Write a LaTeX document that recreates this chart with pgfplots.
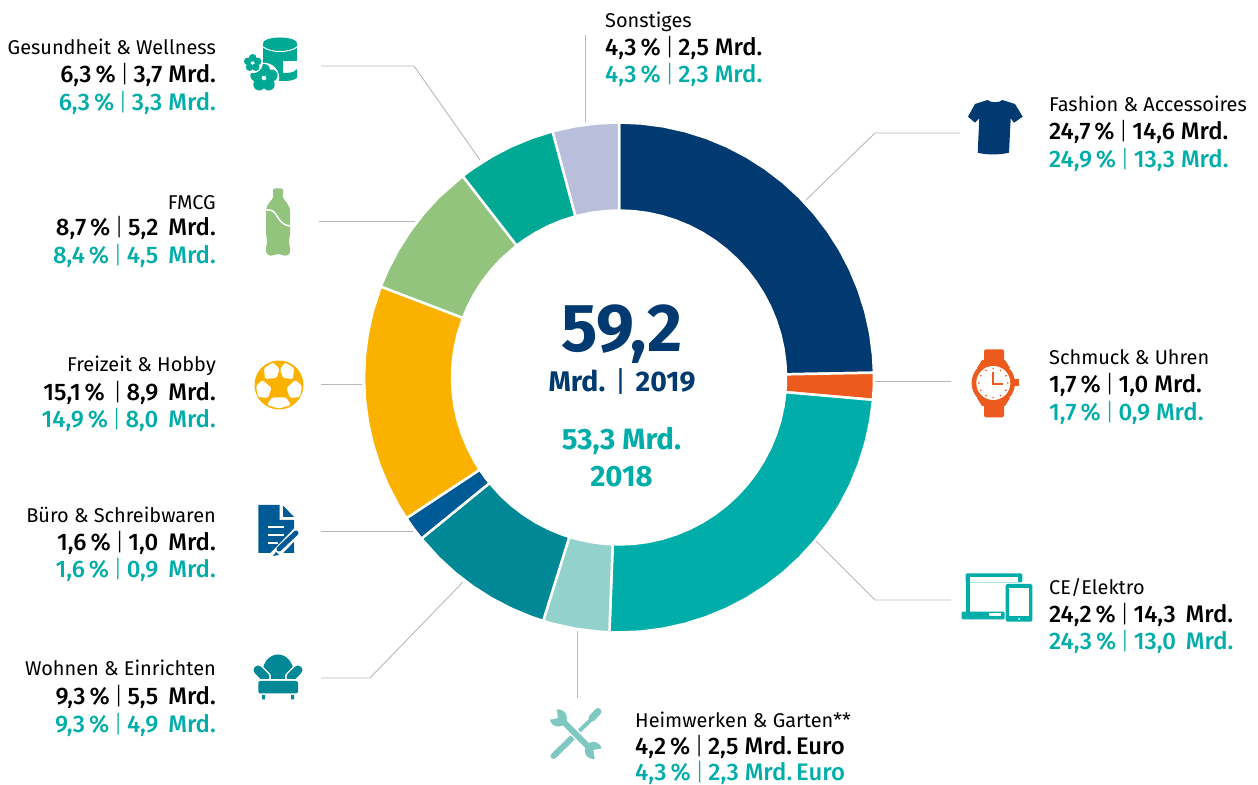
\documentclass[border=0pt]{standalone}
\usepackage{fontspec}
\usepackage{pgfplots}
\usepgfplotslibrary{polar}
\pgfplotsset{compat=1.18}
\setmainfont{Fira Sans}
\newfontfamily\med{Fira Sans Medium}
\definecolor{cNavy}{HTML}{003A70}
\definecolor{cOrange}{HTML}{EC5A1E}
\definecolor{cTeal}{HTML}{00ADA9}
\definecolor{cLight}{HTML}{93D2CC}
\definecolor{cDark}{HTML}{008896}
\definecolor{cBlue}{HTML}{005A96}
\definecolor{cYellow}{HTML}{FBB100}
\definecolor{cGreen}{HTML}{92C47D}
\definecolor{cSea}{HTML}{00A994}
\definecolor{cLav}{HTML}{B9BFDA}
\definecolor{cTools}{HTML}{7FC8C2}
\definecolor{cLead}{HTML}{B8B8B8}
\definecolor{cTxtTeal}{HTML}{00ADA9}
\newcommand{\nm}{\fontsize{20}{20}\selectfont}
\newcommand{\vl}{\fontsize{24}{24}\selectfont\med}
\newcommand{\labL}[8]{%
 \node[anchor=base east,inner sep=0pt] at (#1,#2+1) {\nm #3};
 \node[anchor=base east,inner sep=0pt] at (#1,#4+1) {\vl #5};
 \node[anchor=base east,inner sep=0pt,text=cTxtTeal] at (#1,#6+1) {\vl #7};}
\newcommand{\labR}[8]{%
 \node[anchor=base west,inner sep=0pt] at (#1,#2+1) {\nm #3};
 \node[anchor=base west,inner sep=0pt] at (#1,#4+1) {\vl #5};
 \node[anchor=base west,inner sep=0pt,text=cTxtTeal] at (#1,#6+1) {\vl #7};}
\newcommand{\sep}{\,{\fontspec{Fira Sans Light}|}\,}
\newcommand{\flower}[4]{%
 \fill[white] (#1,#2) circle (#3+#4+1.2);
 \foreach \a in {90,162,234,306,18} {\fill[cSea] ({#1+#3*cos(\a)},{#2-#3*sin(\a)}) circle (#4);}
 \fill[white] (#1,#2) circle (#4*0.22);}
\begin{document}
\begin{tikzpicture}[x=1bp,y=1bp]
\useasboundingbox (0,0) rectangle (1258,785);
\begin{polaraxis}[at={(619,407.5)},anchor=center,scale only axis,width=510bp,height=510bp,
  hide axis,xmin=0,xmax=360,ymin=0,ymax=255,clip=false]
\addplot[fill=cNavy,draw=white,line width=2.5bp] coordinates {(90,255)(85,255)(80,255)(75,255)(70,255)(65,255)(60,255)(55,255)(50,255)(45,255)(40,255)(35,255)(30,255)(25,255)(20,255)(15,255)(10,255)(5,255)(1.08,255)(1.08,167)(5,167)(10,167)(15,167)(20,167)(25,167)(30,167)(35,167)(40,167)(45,167)(50,167)(55,167)(60,167)(65,167)(70,167)(75,167)(80,167)(85,167)(90,167)} --cycle;
\addplot[fill=cOrange,draw=white,line width=2.5bp] coordinates {(1.08,255)(-2,255)(-5.04,255)(-5.04,167)(-2,167)(1.08,167)} --cycle;
\addplot[fill=cTeal,draw=white,line width=2.5bp] coordinates {(-5.04,255)(-10,255)(-15,255)(-20,255)(-25,255)(-30,255)(-35,255)(-40,255)(-45,255)(-50,255)(-55,255)(-60,255)(-65,255)(-70,255)(-75,255)(-80,255)(-85,255)(-90,255)(-92.16,255)(-92.16,167)(-90,167)(-85,167)(-80,167)(-75,167)(-70,167)(-65,167)(-60,167)(-55,167)(-50,167)(-45,167)(-40,167)(-35,167)(-30,167)(-25,167)(-20,167)(-15,167)(-10,167)(-5.04,167)} --cycle;
\addplot[fill=cLight,draw=white,line width=2.5bp] coordinates {(-92.16,255)(-95,255)(-100,255)(-105,255)(-107.3,255)(-107.3,167)(-105,167)(-100,167)(-95,167)(-92.16,167)} --cycle;
\addplot[fill=cDark,draw=white,line width=2.5bp] coordinates {(-107.3,255)(-110,255)(-115,255)(-120,255)(-125,255)(-130,255)(-135,255)(-140.8,255)(-140.8,167)(-135,167)(-130,167)(-125,167)(-120,167)(-115,167)(-110,167)(-107.3,167)} --cycle;
\addplot[fill=cBlue,draw=white,line width=2.5bp] coordinates {(-140.8,255)(-143.5,255)(-146.5,255)(-146.5,167)(-143.5,167)(-140.8,167)} --cycle;
\addplot[fill=cYellow,draw=white,line width=2.5bp] coordinates {(-146.5,255)(-150,255)(-155,255)(-160,255)(-165,255)(-170,255)(-175,255)(-180,255)(-185,255)(-190,255)(-195,255)(-200.9,255)(-200.9,167)(-195,167)(-190,167)(-185,167)(-180,167)(-175,167)(-170,167)(-165,167)(-160,167)(-155,167)(-150,167)(-146.5,167)} --cycle;
\addplot[fill=cGreen,draw=white,line width=2.5bp] coordinates {(-200.9,255)(-205,255)(-210,255)(-215,255)(-220,255)(-225,255)(-232.2,255)(-232.2,167)(-225,167)(-220,167)(-215,167)(-210,167)(-205,167)(-200.9,167)} --cycle;
\addplot[fill=cSea,draw=white,line width=2.5bp] coordinates {(-232.2,255)(-235,255)(-240,255)(-245,255)(-250,255)(-254.9,255)(-254.9,167)(-250,167)(-245,167)(-240,167)(-235,167)(-232.2,167)} --cycle;
\addplot[fill=cLav,draw=white,line width=2.5bp] coordinates {(-254.9,255)(-260,255)(-265,255)(-270,255)(-270,167)(-265,167)(-260,167)(-254.9,167)} --cycle;
\end{polaraxis}
\begin{scope}[shift={(0,785)},y=-1bp]
% leader lines
\begin{scope}[draw=cLead,line width=0.9bp]
\draw (960,133)--(875,133)--(806,200);
\draw (951,381)--(875,381);
\draw (951,600)--(875,600)--(816,541);
\draw (577,631)--(577,698);
\draw (321,678)--(370,678)--(463,582);
\draw (321,531)--(413,531);
\draw (321,384)--(362,384);
\draw (319,221)--(415,221);
\draw (321,66)--(414,66)--(480,160);
\draw (585,35)--(585,122);
\end{scope}
% centre
\node[anchor=base,inner sep=0pt,text=cNavy] at (621.5,352) {\fontsize{68}{68}\selectfont\bfseries 59,2};
\node[anchor=base,inner sep=0pt,text=cNavy] at (622,392) {\fontsize{28.5}{28.5}\selectfont\bfseries Mrd.\,{\mdseries\,|\,}\,2019};
\node[anchor=base,inner sep=0pt,text=cTxtTeal] at (621.5,449.5) {\fontsize{29.5}{29.5}\selectfont\bfseries 53,3 Mrd.};
\node[anchor=base,inner sep=0pt,text=cTxtTeal] at (621.5,487) {\fontsize{29.5}{29.5}\selectfont\bfseries 2018};
% labels
\labL{216}{54}{Gesundheit \& Wellness}{82}{6,3\,\%\sep 3,7 Mrd.}{110}{6,3\,\%\sep 3,3 Mrd.}{}
\labL{216}{209}{FMCG}{235}{8,7\,\%\sep 5,2\, Mrd.}{263}{8,4\,\%\sep 4,5\, Mrd.}{}
\labL{216}{371}{Freizeit \& Hobby}{400}{15,1\,\%\,\sep 8,9\, Mrd.}{427}{14,9\,\%\sep 8,0\, Mrd.}{}
\labL{216}{522}{Büro \& Schreibwaren}{550}{1,6\,\%\sep 1,0\, Mrd.}{577}{1,6\,\%\sep 0,9\, Mrd.}{}
\labL{216}{675}{Wohnen \& Einrichten}{704}{9,3\,\%\sep 5,5\, Mrd.}{732}{9,3\,\%\sep 4,9\, Mrd.}{}
\labR{605}{27}{Sonstiges}{55}{4,3\,\%\sep 2,5 Mrd.}{82}{4,3\,\%\sep 2,3 Mrd.}{}
\labR{1049}{111}{Fashion \& Accessoires}{139}{24,7\,\%\sep 14,6 Mrd.}{167}{24,9\,\%\sep 13,3 Mrd.}{}
\labR{1049}{364}{Schmuck \& Uhren}{392}{1,7\,\%\sep 1,0 Mrd.}{420}{1,7\,\%\sep 0,9 Mrd.}{}
\labR{1049}{594}{CE/Elektro}{622}{24,2\,\%\sep 14,3\, Mrd.}{649}{24,3\,\%\sep 13,0\, Mrd.}{}
\labR{635}{727}{Heimwerken \& Garten**}{754}{4,2\,\%\sep 2,5 Mrd.\,Euro}{780}{4,3\,\%\sep 2,3 Mrd.\,Euro}{}
% t-shirt
\fill[cNavy] (987.7,100) .. controls (990,103) and (1000,103) .. (1002.3,100) -- (1015,104) -- (1022.7,116.7) -- (1014,122.7) -- (1010.7,118.3) -- (1009,152.7) .. controls (1000,155) and (986,155) .. (977.7,152.7) -- (979.3,118.3) -- (975,122.7) -- (968,116.7) -- (975,104) -- cycle;
% watch
\fill[cOrange,rounded corners=1.5] (984,349.3) rectangle (1004,365);
\fill[cOrange,rounded corners=1.5] (984,401.7) rectangle (1004,417.3);
\fill[cOrange] (982,360)--(1005,360)--(1010,368)--(977,368)--cycle;
\fill[cOrange] (982,406)--(1005,406)--(1010,398)--(977,398)--cycle;
\fill[cOrange] (1014,379.5) rectangle (1019,386.5);
\fill[cOrange] (993.3,383) circle (21.7);
\fill[white] (993.3,383) circle (17);
\foreach \a in {0,30,...,330} {\fill[cOrange] ({993.3+14.5*cos(\a)},{383+14.5*sin(\a)}) circle (0.9);}
\draw[cOrange,line width=1.4bp] (993,372)--(993,384)--(1003,384);
% devices
\fill[cTeal,rounded corners=1.5] (965.7,573.3) rectangle (1022.3,582.5);
\fill[cTeal] (965.7,575) rectangle (970,612);
\fill[cTeal] (1018,575) rectangle (1022.3,582.5);
\fill[cTeal,rounded corners=1] (961.7,611.7) rectangle (1004.5,619.3);
\fill[white] (970,577.5) rectangle (1018,582.5);
\fill[white] (989,613.3) rectangle (1000.7,615.7);
\fill[cTeal,rounded corners=1.5] (1005.7,584) rectangle (1032.3,621.7);
\fill[white] (1009,587.7) rectangle (1029.3,616);
\fill[white] (1019,619) circle (1);
% tools
\begin{scope}[cTools]
\draw[line width=6bp,line cap=round] (553.5,756)--(571.7,738.3);
\draw[line width=4bp] (571,739)--(591.7,719);
\draw[line width=7bp,line cap=round] (592,718)--(598,711.5);
\draw[white,line width=9bp] (562,720)--(590,748);
\draw[line width=6bp] (558.3,716.7)--(593.3,751.7);
\fill (558.3,718) circle (8.6);
\fill (593.3,750.5) circle (8.6);
\fill[white] (558,718)--(556,707)--(547,712)--(548,720)--cycle;
\fill[white] (593.6,750)--(595,761)--(604,756)--(604,748)--cycle;
\end{scope}
% document
\fill[cBlue] (258.3,505)--(279.5,505)--(279.5,520)--(294,520)--(294,553)--(258.3,553)--cycle;
\fill[cBlue] (283,505.5)--(294,517)--(283,517)--cycle;
\draw[white,line width=2.2bp] (268,527)--(284,527) (268,535)--(284,535) (268,543)--(278,543);
\draw[white,line width=9bp] (270,560)--(298,531);
\draw[cBlue,line width=5bp,line cap=round] (279,549)--(296,533);
\fill[cBlue] (276,552)--(273,556)--(279,555)--cycle;
% armchair
\fill[cDark] (262,680) .. controls (259,646) and (297,646) .. (294,680) -- cycle;
\draw[white,line width=12bp,line cap=round] (258,670)--(265,677) (298,670)--(291,677);
\draw[cDark,line width=9bp,line cap=round] (258,670)--(265,677) (298,670)--(291,677);
\fill[white] (255,679.5) rectangle (300,681);
\fill[cDark,rounded corners=2] (258.3,681) rectangle (298,693.5);
\fill[cDark] (262,695) rectangle (265,699.5) (291,695) rectangle (294,699.5);
% soccer ball
\fill[cYellow] (279,385) circle (24.5);
\begin{scope}[rounded corners=1.5]
\fill[white] (264,368)--(273,362.5)--(279.5,369)--(276.5,378)--(265,379)--cycle;
\fill[white] (294,368)--(285,362.5)--(280,369)--(283,378)--(293,379)--cycle;
\fill[white] (295.5,380)--(302,386)--(300,397)--(290,398)--(286.5,388)--cycle;
\fill[white] (262.5,380)--(256,386)--(258,397)--(268,398)--(271.5,388)--cycle;
\fill[white] (272,397.5)--(286,397.5)--(291,405)--(279,408.5)--(267,405)--cycle;
\end{scope}
% bottle
\fill[cGreen,rounded corners=1.5] (273,188.3) rectangle (283,197);
\fill[cGreen] (273.5,196) .. controls (272,202) and (266,203) .. (266,212) -- (266,232) .. controls (266,238) and (268,240) .. (266,248) .. controls (265,255) and (270,257) .. (274,255) .. controls (276,254) and (280,254) .. (282,255) .. controls (287,257) and (291,255) .. (290,248) .. controls (288,240) and (290,238) .. (290,232) -- (290,212) .. controls (290,203) and (284,202) .. (282.5,196) -- cycle;
\draw[white,line width=1.5bp] (266,210) .. controls (279,208) and (275,224) .. (290,226);
% jar & flowers
\fill[cSea] (263.3,44) rectangle (297,61);
\fill[cSea] (263.3,61) rectangle (283,81);
\fill[cSea] (283,73) .. controls (288,73) and (294,73) .. (297,69) -- (297,78) .. controls (292,81) and (288,81) .. (283,81) -- cycle;
\fill[cSea] (280,43) ellipse (17 and 5.5);
\draw[white,line width=1bp] (263.3,47) .. controls (270,53) and (290,53) .. (297,47);
\flower{264}{78}{8}{6}
\flower{252.7}{63}{5.2}{3.8}
\end{scope}
\end{tikzpicture}
\end{document}
